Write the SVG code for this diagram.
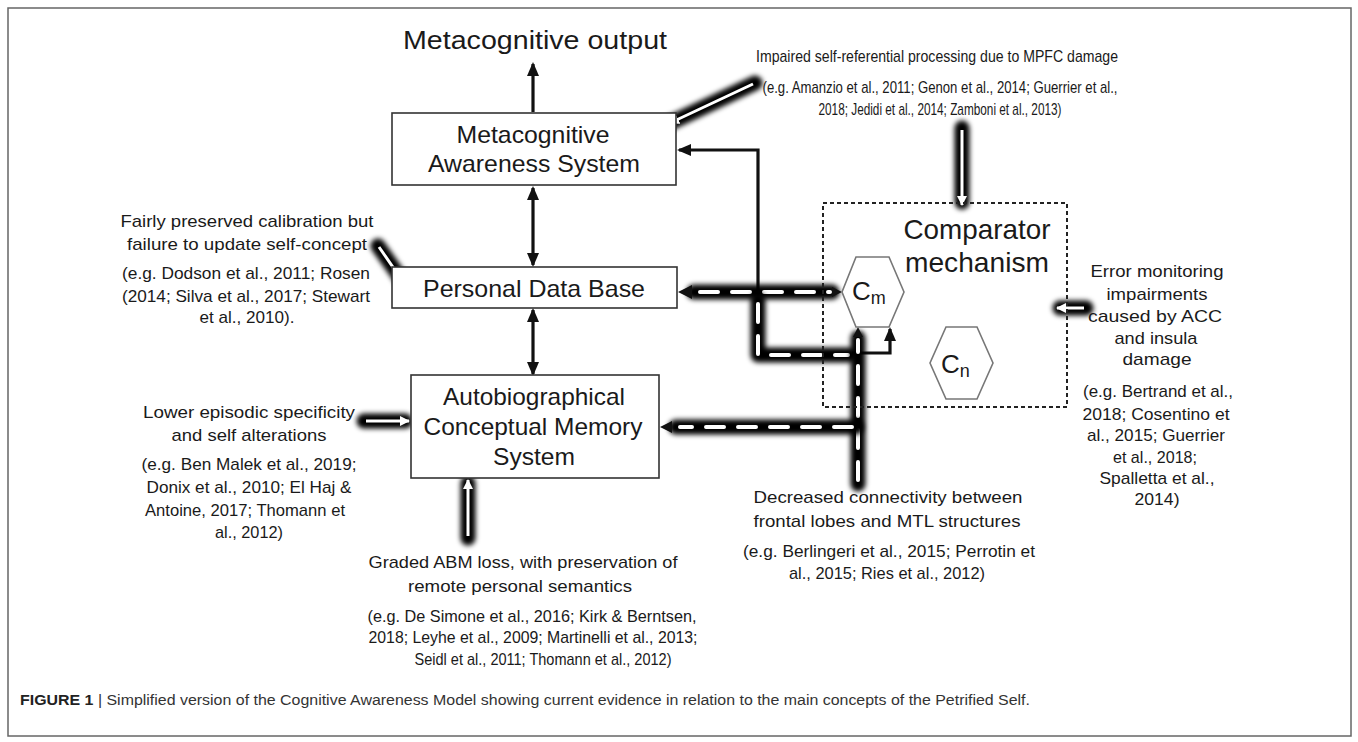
<svg xmlns="http://www.w3.org/2000/svg" width="1358" height="742" viewBox="0 0 1358 742">
<style>
  .t{font-family:"Liberation Sans",Arial,sans-serif;fill:#1a1a1a;text-anchor:middle}
  .box{fill:#fff;stroke:#333;stroke-width:1.6}
  .hex{fill:#fff;stroke:#777;stroke-width:1.6}
  .conn{fill:none;stroke:#111;stroke-width:3.2}
  .band{fill:none;stroke:#000;stroke-width:15;stroke-linecap:round;stroke-linejoin:round;filter:url(#blur)}
  .wdash{fill:none;stroke:#fff;stroke-width:4;stroke-linecap:round;stroke-dasharray:18 14}
  .wline{fill:none;stroke:#fff;stroke-width:3}
  .cap{font-family:"Liberation Sans",Arial,sans-serif;fill:#333;font-size:14px}
</style>
<defs>
  <filter id="blur" filterUnits="userSpaceOnUse" x="0" y="0" width="1358" height="742"><feGaussianBlur stdDeviation="2.5"/></filter>
  <marker id="bk" markerUnits="userSpaceOnUse" markerWidth="14" markerHeight="14" refX="12" refY="7" orient="auto-start-reverse"><path d="M0,1 L14,7 L0,13 z" fill="#111"/></marker>
  <marker id="wh" markerUnits="userSpaceOnUse" markerWidth="10" markerHeight="10" refX="9" refY="5" orient="auto"><path d="M0,0 L10,5 L0,10 z" fill="#fff"/></marker>
</defs>
<rect x="8" y="8" width="1343" height="728" fill="#fff" stroke="#666" stroke-width="1.5"/>

<g id="connectors">
  <!-- solid black connectors -->
  <line class="conn" x1="533" y1="112" x2="533" y2="64" marker-end="url(#bk)"/>
  <line class="conn" x1="533" y1="188" x2="533" y2="265" marker-start="url(#bk)" marker-end="url(#bk)"/>
  <line class="conn" x1="533" y1="310" x2="533" y2="374" marker-start="url(#bk)" marker-end="url(#bk)"/>
  <polyline class="conn" points="758,292 758,150 679,150" marker-end="url(#bk)"/>
  <polyline class="conn" points="852,353 890,353 890,329" marker-end="url(#bk)"/>

  <!-- dashed glowing connectors -->
  <path class="band" d="M694 292 H832"/>
  <path class="wdash" d="M700 292 H830"/>
  <path d="M678,292 L692,285 L692,299 z" fill="#111"/>
  <path d="M842,292 L832,287 L832,297 z" fill="#111"/>

  <path class="band" d="M758 300 V355 H850"/>
  <path class="wdash" d="M758 304 V355 H848"/>

  <path class="band" d="M858 484 V338"/>
  <path class="wdash" d="M858 480 V340"/>
  <path d="M858,327 L853,337 L863,337 z" fill="#111"/>

  <path class="band" d="M676 427 H856"/>
  <path class="wdash" d="M852 427 H680"/>
  <path d="M660,427 L672,421 L672,433 z" fill="#111"/>

  <!-- white glowing arrows -->
  <path class="band" d="M755 83 L666 125"/>
  <path class="wline" d="M753 84 L670 123" marker-end="url(#wh)"/>

  <path class="band" d="M962 128 V202"/>
  <path class="wline" d="M962 130 V205" marker-end="url(#wh)"/>

  <path class="band" d="M378 246 L404 283"/>
  <path class="wline" d="M379 247 L406 286" marker-end="url(#wh)"/>

  <path class="band" d="M364 421 H405"/>
  <path class="wline" d="M366 421 H409" marker-end="url(#wh)"/>

  <path class="band" d="M468 538 V483"/>
  <path class="wline" d="M468 536 V480" marker-end="url(#wh)"/>

  <path class="band" d="M1086 308 H1060"/>
  <path class="wline" d="M1084 308 H1057" marker-end="url(#wh)"/>
</g>

<g id="metacognitive-output">
  <text class="t" x="535" y="49" font-size="26" textLength="264" lengthAdjust="spacingAndGlyphs">Metacognitive output</text>
</g>

<g id="metacognitive-awareness-system">
  <rect class="box" x="392" y="113" width="284" height="72"/>
  <text class="t" x="533" y="143" font-size="24" textLength="153" lengthAdjust="spacingAndGlyphs">Metacognitive</text>
  <text class="t" x="534" y="172" font-size="24" textLength="212" lengthAdjust="spacingAndGlyphs">Awareness System</text>
</g>

<g id="personal-data-base">
  <rect class="box" x="392" y="267" width="285" height="41"/>
  <text class="t" x="534" y="297" font-size="24" textLength="222" lengthAdjust="spacingAndGlyphs">Personal Data Base</text>
</g>

<g id="autobiographical-memory">
  <rect class="box" x="411" y="375" width="248" height="103"/>
  <text class="t" x="534" y="405" font-size="24" textLength="182" lengthAdjust="spacingAndGlyphs">Autobiographical</text>
  <text class="t" x="533" y="435" font-size="24" textLength="219" lengthAdjust="spacingAndGlyphs">Conceptual Memory</text>
  <text class="t" x="534" y="465" font-size="24" textLength="82" lengthAdjust="spacingAndGlyphs">System</text>
</g>

<g id="comparator-mechanism">
  <rect x="823" y="203" width="244" height="204" fill="none" stroke="#222" stroke-width="2" stroke-dasharray="4 3"/>
  <text class="t" x="977" y="239" font-size="28" textLength="147" lengthAdjust="spacingAndGlyphs">Comparator</text>
  <text class="t" x="977" y="272" font-size="28" textLength="144" lengthAdjust="spacingAndGlyphs">mechanism</text>
</g>

<g id="cm">
  <polygon class="hex" points="856,257 889,257 904,292 889,327 856,327 842,292"/>
  <text x="852" y="300" font-family="Liberation Sans, Arial, sans-serif" font-size="26" fill="#1a1a1a">C<tspan font-size="18" dy="4">m</tspan></text>
</g>

<g id="cn">
  <polygon class="hex" points="946,327 977,327 993,363 977,399 946,399 930,363"/>
  <text x="941" y="373" font-family="Liberation Sans, Arial, sans-serif" font-size="26" fill="#1a1a1a">C<tspan font-size="18" dy="4">n</tspan></text>
</g>

<g id="note-mpfc">
  <text class="t" x="937" y="62" font-size="17" textLength="362" lengthAdjust="spacingAndGlyphs">Impaired self-referential processing due to MPFC damage</text>
  <text class="t" x="940" y="93" font-size="17" textLength="355" lengthAdjust="spacingAndGlyphs">(e.g. Amanzio et al., 2011; Genon et al., 2014; Guerrier et al.,</text>
  <text class="t" x="940" y="115" font-size="17" textLength="243" lengthAdjust="spacingAndGlyphs">2018; Jedidi et al., 2014; Zamboni et al., 2013)</text>
</g>

<g id="note-calibration">
  <text class="t" x="247" y="227" font-size="17" textLength="253" lengthAdjust="spacingAndGlyphs">Fairly preserved calibration but</text>
  <text class="t" x="247" y="250" font-size="17" textLength="240" lengthAdjust="spacingAndGlyphs">failure to update self-concept</text>
  <text class="t" x="246" y="279" font-size="17" textLength="248" lengthAdjust="spacingAndGlyphs">(e.g. Dodson et al., 2011; Rosen</text>
  <text class="t" x="246" y="302" font-size="17" textLength="248" lengthAdjust="spacingAndGlyphs">(2014; Silva et al., 2017; Stewart</text>
  <text class="t" x="247" y="323" font-size="17" textLength="95" lengthAdjust="spacingAndGlyphs">et al., 2010).</text>
</g>

<g id="note-episodic">
  <text class="t" x="249" y="418" font-size="17" textLength="212" lengthAdjust="spacingAndGlyphs">Lower episodic specificity</text>
  <text class="t" x="249" y="441" font-size="17" textLength="155" lengthAdjust="spacingAndGlyphs">and self alterations</text>
  <text class="t" x="249" y="470" font-size="17" textLength="215" lengthAdjust="spacingAndGlyphs">(e.g. Ben Malek et al., 2019;</text>
  <text class="t" x="249" y="493" font-size="17" textLength="205" lengthAdjust="spacingAndGlyphs">Donix et al., 2010; El Haj &amp;</text>
  <text class="t" x="245" y="516" font-size="17" textLength="200" lengthAdjust="spacingAndGlyphs">Antoine, 2017; Thomann et</text>
  <text class="t" x="249" y="538" font-size="17" textLength="68" lengthAdjust="spacingAndGlyphs">al., 2012)</text>
</g>

<g id="note-abm">
  <text class="t" x="523" y="568" font-size="17" textLength="309" lengthAdjust="spacingAndGlyphs">Graded ABM loss, with preservation of</text>
  <text class="t" x="520" y="592" font-size="17" textLength="224" lengthAdjust="spacingAndGlyphs">remote personal semantics</text>
  <text class="t" x="532" y="622" font-size="17" textLength="329" lengthAdjust="spacingAndGlyphs">(e.g. De Simone et al., 2016; Kirk &amp; Berntsen,</text>
  <text class="t" x="533" y="643" font-size="17" textLength="329" lengthAdjust="spacingAndGlyphs">2018; Leyhe et al., 2009; Martinelli et al., 2013;</text>
  <text class="t" x="543" y="665" font-size="17" textLength="257" lengthAdjust="spacingAndGlyphs">Seidl et al., 2011; Thomann et al., 2012)</text>
</g>

<g id="note-connectivity">
  <text class="t" x="888" y="503" font-size="17" textLength="269" lengthAdjust="spacingAndGlyphs">Decreased connectivity between</text>
  <text class="t" x="887" y="527" font-size="17" textLength="267" lengthAdjust="spacingAndGlyphs">frontal lobes and MTL structures</text>
  <text class="t" x="889" y="557" font-size="17" textLength="292" lengthAdjust="spacingAndGlyphs">(e.g. Berlingeri et al., 2015; Perrotin et</text>
  <text class="t" x="887" y="579" font-size="17" textLength="196" lengthAdjust="spacingAndGlyphs">al., 2015; Ries et al., 2012)</text>
</g>

<g id="note-error">
  <text class="t" x="1157" y="277" font-size="17" textLength="133" lengthAdjust="spacingAndGlyphs">Error monitoring</text>
  <text class="t" x="1157" y="300" font-size="17" textLength="101" lengthAdjust="spacingAndGlyphs">impairments</text>
  <text class="t" x="1155" y="322" font-size="17" textLength="134" lengthAdjust="spacingAndGlyphs">caused by ACC</text>
  <text class="t" x="1156" y="344" font-size="17" textLength="83" lengthAdjust="spacingAndGlyphs">and insula</text>
  <text class="t" x="1157" y="365" font-size="17" textLength="69" lengthAdjust="spacingAndGlyphs">damage</text>
  <text class="t" x="1158" y="397" font-size="17" textLength="150" lengthAdjust="spacingAndGlyphs">(e.g. Bertrand et al.,</text>
  <text class="t" x="1156" y="420" font-size="17" textLength="147" lengthAdjust="spacingAndGlyphs">2018; Cosentino et</text>
  <text class="t" x="1156" y="441" font-size="17" textLength="138" lengthAdjust="spacingAndGlyphs">al., 2015; Guerrier</text>
  <text class="t" x="1155" y="463" font-size="17" textLength="84" lengthAdjust="spacingAndGlyphs">et al., 2018;</text>
  <text class="t" x="1157" y="484" font-size="17" textLength="115" lengthAdjust="spacingAndGlyphs">Spalletta et al.,</text>
  <text class="t" x="1157" y="505" font-size="17" textLength="45" lengthAdjust="spacingAndGlyphs">2014)</text>
</g>

<g id="caption">
  <text class="cap" x="20" y="705" textLength="1010" lengthAdjust="spacingAndGlyphs"><tspan font-weight="bold" fill="#222">FIGURE 1</tspan> | Simplified version of the Cognitive Awareness Model showing current evidence in relation to the main concepts of the Petrified Self.</text>
</g>
</svg>
